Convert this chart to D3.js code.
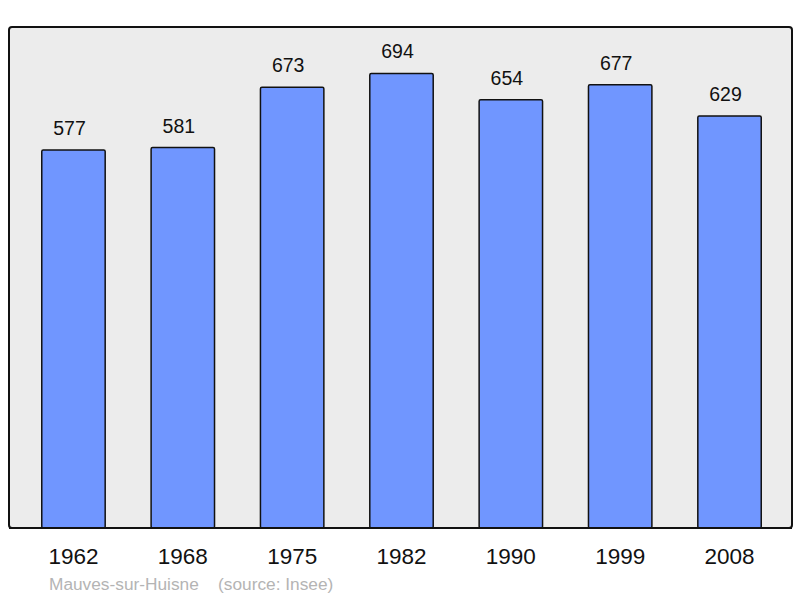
<!DOCTYPE html>
<html>
<head>
<meta charset="utf-8">
<script src="https://cdn.jsdelivr.net/npm/d3@7"></script>
<style>
  body { margin: 0; background: #fff; }
  text { font-family: "Liberation Sans", Arial, sans-serif; }
</style>
</head>
<body>
<div id="chart"></div>
<script>
// population data
const years = ["1962", "1968", "1975", "1982", "1990", "1999", "2008"];
const population = [577, 581, 673, 694, 654, 677, 629];
const town = "Mauves-sur-Huisne";
const source = "(source: Insee)";

const width = 800, height = 598;
const panel = {left: 9, top: 27, right: 792, bottom: 528};

const svg = d3.select("#chart")
  .append("svg")
    .attr("width", width)
    .attr("height", height);

// background panel
svg.append("rect")
    .attr("x", panel.left)
    .attr("y", panel.top)
    .attr("width", panel.right - panel.left)
    .attr("height", panel.bottom - panel.top)
    .attr("rx", 3)
    .attr("fill", "#ececec")
    .attr("stroke", "#111")
    .attr("stroke-width", 2);

const x = d3.scaleBand()
    .domain(years)
    .range([18.8, 784.2])
    .paddingInner(0.42)
    .paddingOuter(0.21);

const y = d3.scaleLinear()
    .domain([0, 765])
    .range([panel.bottom, panel.top]);

const data = years.map((yr, i) => ({year: yr, value: population[i]}));

svg.selectAll(".bar")
    .data(data)
  .enter().append("rect")
    .attr("class", "bar")
    .attr("x", d => x(d.year))
    .attr("y", d => y(d.value))
    .attr("width", x.bandwidth())
    .attr("height", d => y(0) - y(d.value))
    .attr("rx", 1.5)
    .attr("fill", "#7096ff")
    .attr("stroke", "#111")
    .attr("stroke-width", 1.5);

// value labels (sit a little left of the bar centre, as in the original)
svg.selectAll(".val")
    .data(data)
  .enter().append("text")
    .attr("class", "val")
    .attr("x", d => x(d.year) + x.bandwidth() / 2 - 4)
    .attr("y", d => y(d.value) - 15)
    .attr("text-anchor", "middle")
    .attr("font-size", 19.5)
    .attr("fill", "#111")
    .text(d => d.value);

// redraw the bottom border over the bars
svg.append("line")
    .attr("x1", panel.left).attr("x2", panel.right)
    .attr("y1", panel.bottom).attr("y2", panel.bottom)
    .attr("stroke", "#111")
    .attr("stroke-width", 2);

// year axis labels
const xAxis = svg.append("g")
    .attr("transform", `translate(0,${panel.bottom})`)
    .call(d3.axisBottom(x).tickSize(0).tickPadding(20));
xAxis.select(".domain").remove();
xAxis.selectAll("text")
    .attr("font-size", 22.5)
    .attr("font-family", "Liberation Sans, Arial, sans-serif")
    .attr("fill", "#111");

// footer
svg.append("text")
    .attr("x", 49)
    .attr("y", 590)
    .attr("font-size", 17.3)
    .attr("fill", "#b4b4b4")
    .attr("xml:space", "preserve")
    .text(town + "    " + source);
</script>
</body>
</html>
